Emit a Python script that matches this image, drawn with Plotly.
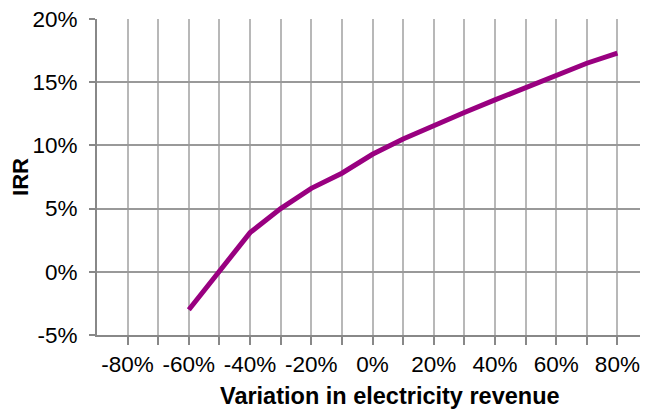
import plotly.graph_objects as go

variation = [-0.6, -0.5, -0.4, -0.3, -0.2, -0.1, 0.0, 0.1, 0.2, 0.3, 0.4, 0.5, 0.6, 0.7, 0.8]
irr = [-0.030, 0.001, 0.031, 0.050, 0.066, 0.078, 0.093, 0.105, 0.116, 0.126, 0.136, 0.146, 0.156, 0.165, 0.173]

x_tickvals = [-0.8, -0.7, -0.6, -0.5, -0.4, -0.3, -0.2, -0.1, 0.0, 0.1, 0.2, 0.3, 0.4, 0.5, 0.6, 0.7, 0.8]
x_ticktext = ["-80%", "", "-60%", "", "-40%", "", "-20%", "", "0%", "", "20%", "", "40%", "", "60%", "", "80%"]
y_tickvals = [-0.05, 0.0, 0.05, 0.10, 0.15, 0.20]
y_ticktext = ["-5%", "0%", "5%", "10%", "15%", "20%"]

fig = go.Figure()
fig.add_trace(go.Scatter(x=variation, y=irr, mode="lines",
                         line=dict(color="rgb(153,0,128)", width=5),
                         showlegend=False, hoverinfo="skip"))

# page body has an 8px margin, so the figure is a bit smaller than the window
fig.update_layout(
    width=640, height=401,
    margin=dict(l=89, r=0, t=11, b=74),
    paper_bgcolor="white", plot_bgcolor="white",
    font=dict(family="Liberation Sans, Arial, sans-serif", size=22.5, color="black"),
    xaxis=dict(
        range=[-0.9, 0.9], automargin=False,
        tickvals=x_tickvals, ticktext=x_ticktext,
        showgrid=True, gridcolor="#b8b8b8", gridwidth=1.5,
        showline=True, linecolor="#888888", linewidth=2,
        ticks="outside", ticklen=8, tickcolor="#888888", tickwidth=1.5,
        zeroline=False, ticklabeloverflow="allow",
    ),
    yaxis=dict(
        range=[-0.05, 0.20], automargin=False,
        tickvals=y_tickvals, ticktext=y_ticktext,
        showgrid=True, gridcolor="#999999", gridwidth=1.5,
        showline=True, linecolor="#888888", linewidth=2,
        ticks="outside", ticklen=6, tickcolor="#888888", tickwidth=1.5,
        zeroline=False, ticklabelstandoff=7, ticklabeloverflow="allow",
        title=dict(text="<b>IRR</b>", standoff=10, font=dict(size=22)),
    ),
    annotations=[dict(
        text="<b>Variation in electricity revenue</b>",
        xref="paper", yref="paper", x=0.532, y=0, yshift=-46,
        xanchor="center", yanchor="top", showarrow=False,
        font=dict(size=23.5),
    )],
)

fig.write_html("out.html")
